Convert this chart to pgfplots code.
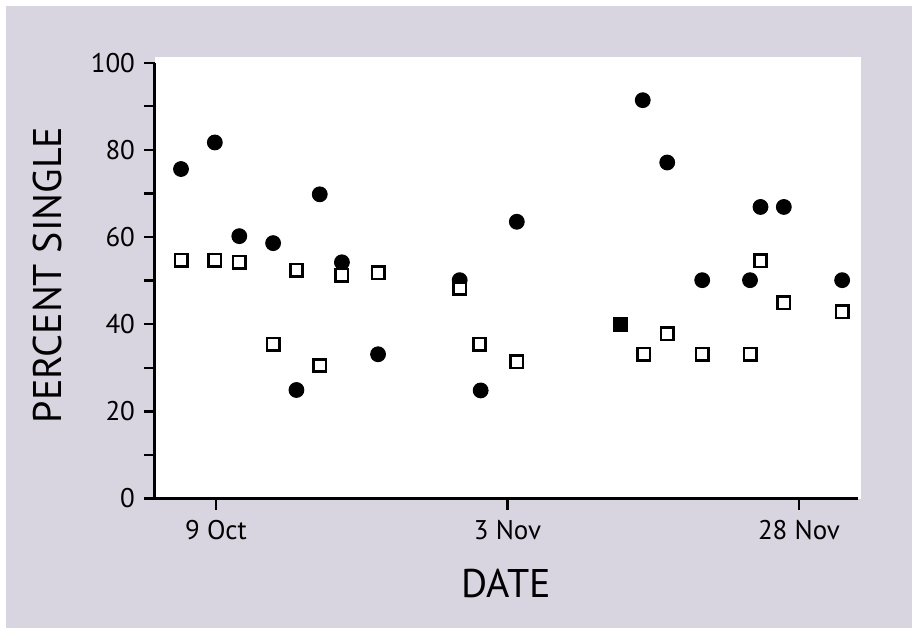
\documentclass[border=0pt]{standalone}
\usepackage{fontspec}
\setmainfont{PT Sans}
\usepackage{pgfplots}
\pgfplotsset{compat=1.18}

\definecolor{paper}{RGB}{216,212,224}

\begin{document}
\begin{tikzpicture}
% page and white panel
\path[use as bounding box] (0,0) rectangle (459pt,317pt);
\fill[paper] (3pt,3pt) rectangle (456pt,314pt);
\fill[white] (77.5pt,67.75pt) rectangle (430.5pt,288.5pt);
\begin{axis}[
    at={(77.5pt,67.75pt)}, anchor=south west,
    scale only axis,
    width=351.5pt, height=217.9pt,
    axis lines=left,
    axis line style={line width=1.5pt, -},
    xmin=-5.23, xmax=55.06,
    ymin=0, ymax=100,
    xtick={0,25,50},
    xticklabels={9 Oct, 3 Nov, 28 Nov},
    ytick={0,20,...,100},
    minor ytick={10,30,...,90},
    tick align=outside,
    major tick length=5.5pt,
    minor tick length=5.5pt,
    every tick/.style={black, line width=1.2pt},
    tick label style={font=\fontsize{13.5}{15}\selectfont},
    /pgf/number format/assume math mode=true,
    xticklabel style={yshift=-2pt},
    yticklabel style={xshift=-1pt},
    label style={font=\fontsize{20}{23}\selectfont},
    xlabel={DATE},
    ylabel={PERCENT SINGLE},
    xlabel style={at={([yshift=-42.5pt]axis description cs:0.5,0)}, anchor=center},
    ylabel style={at={([xshift=-53.5pt]axis description cs:0,0.513)}, anchor=center},
    clip=false,
]
% filled circles
\addplot[only marks, mark=*, mark size=3.7pt, mark options={fill=black, draw=black, line width=0.5pt}] coordinates {
  (-3.0,75.6) (-0.1,81.7) (2.0,60.2) (4.9,58.6) (6.9,24.9) (8.9,69.8)
  (10.8,54.2) (13.9,33.1) (20.9,50.1) (22.7,24.8) (25.8,63.5)
  (36.6,91.4) (38.7,77.1) (41.7,50.1) (45.8,50.1) (46.7,66.9)
  (48.7,66.9) (53.7,50.1)
};
% filled square
\addplot[only marks, mark=square*, mark size=3.1pt, mark options={fill=black, draw=black, line width=1.3pt}] coordinates {
  (34.7,40.0)
};
% open squares
\addplot[only marks, mark=square*, mark size=3.1pt, mark options={fill=white, draw=black, line width=1.3pt}] coordinates {
  (-3.0,54.7) (-0.1,54.7) (2.0,54.2) (4.9,35.4) (6.9,52.4) (8.9,30.5)
  (10.8,51.2) (13.9,51.8) (20.9,48.2) (22.6,35.4) (25.8,31.4)
  (36.7,33.1) (38.7,37.8) (41.7,33.1) (45.8,33.1) (46.7,54.5)
  (48.7,44.9) (53.7,42.8)
};
\end{axis}
\end{tikzpicture}
\end{document}
